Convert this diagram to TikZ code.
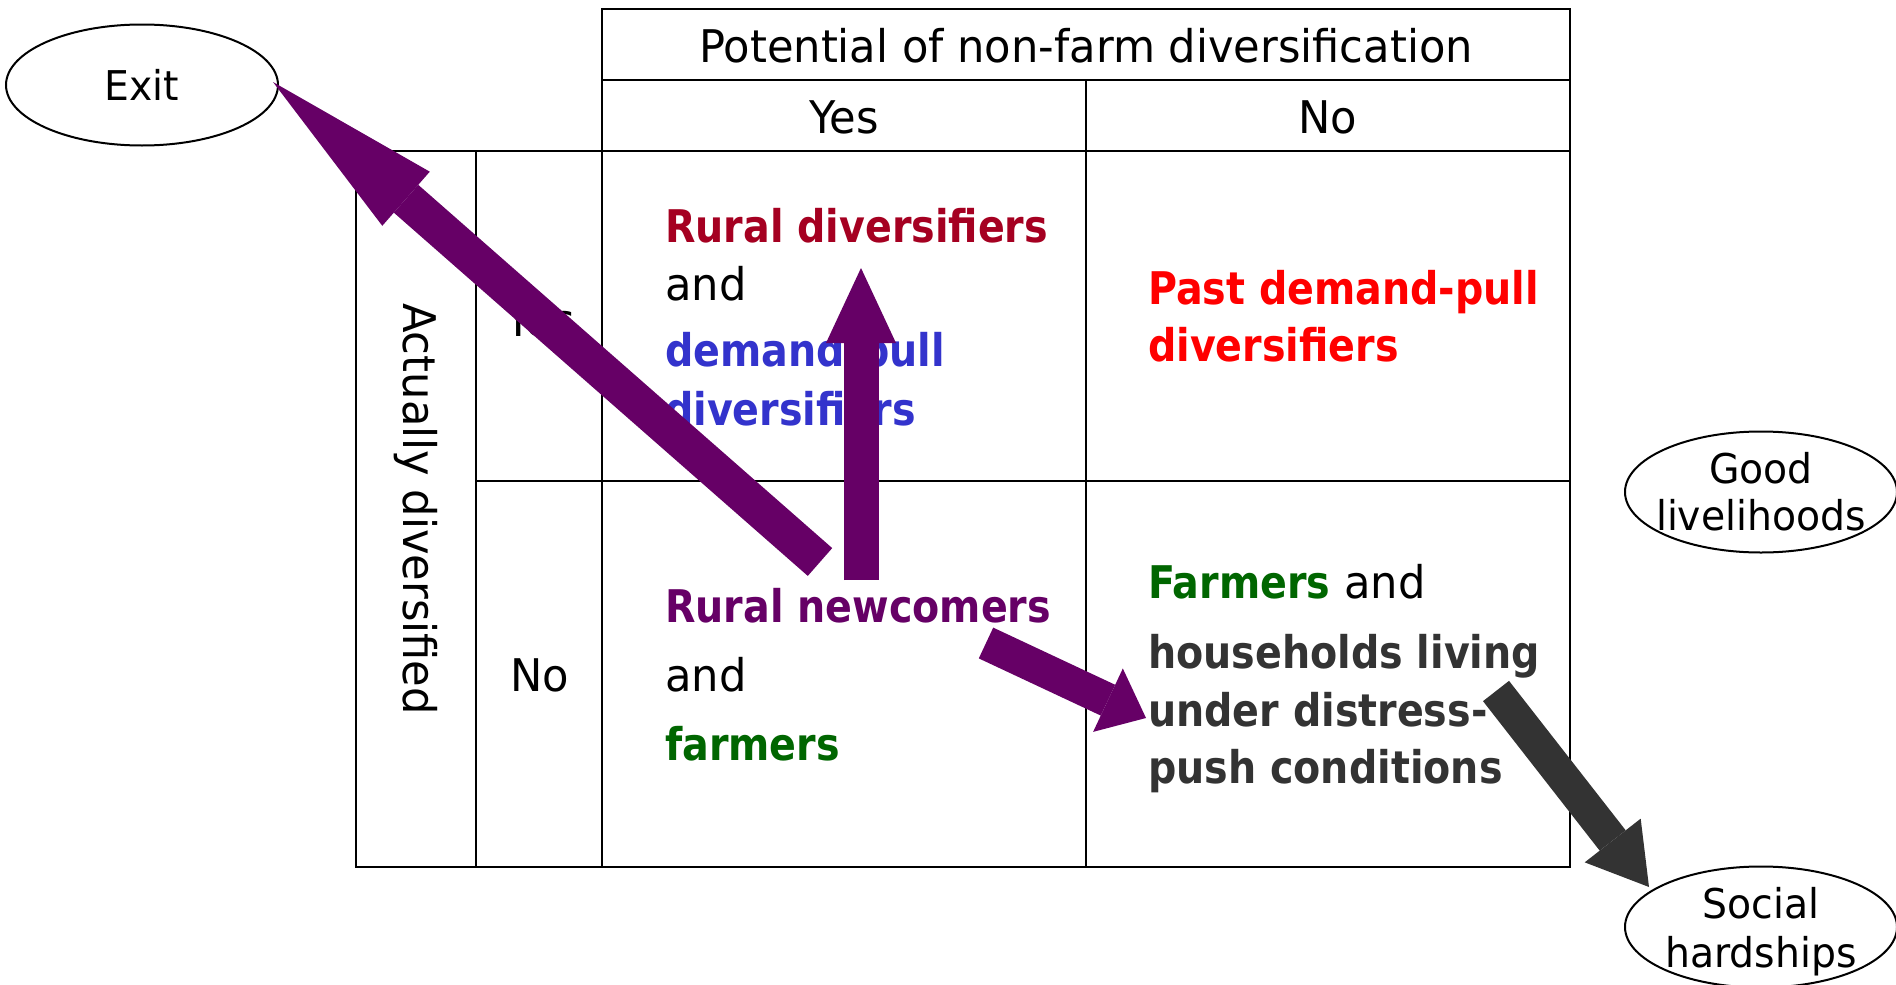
\documentclass[tikz,border=0pt]{standalone}
\usepackage{fontspec}
\newfontfamily\dvreg{DejaVu Sans}[FakeStretch=0.96]
\newfontfamily\dvbold{DejaVu Sans}[FakeStretch=0.88]
\newcommand\btx{\dvbold\bfseries}
\usetikzlibrary{arrows.meta,shapes.geometric}
\definecolor{cDarkRed}{HTML}{A50021}
\definecolor{cBlue}{HTML}{3333CC}
\definecolor{cRed}{HTML}{FF0000}
\definecolor{cPurple}{HTML}{660066}
\definecolor{cGreen}{HTML}{006600}
\definecolor{cGray}{HTML}{333333}
\begin{document}
\begin{tikzpicture}[x=1pt,y=-1pt,
  grid/.style={line width=2.5pt, line cap=rect},
  txt/.style={anchor=base west, inner sep=0pt, font=\fontsize{45}{54}\dvreg},
  ctr/.style={anchor=base, inner sep=0pt, font=\fontsize{45}{54}\dvreg},
  oval/.style={draw, ellipse, line width=2pt, minimum width=272pt, minimum height=121pt, inner sep=0pt},
  otext/.style={anchor=base, inner sep=0pt, font=\fontsize{41}{47}\dvreg},
  blockarrow/.style n args={4}{line width=#1, draw=#2, line cap=butt,
    -{Triangle[length=#3, width=#4, line width=0pt]}}
]
\fill[white] (0,0) rectangle (1896,985);
\useasboundingbox (0,0) rectangle (1896,985);

% table
\draw[grid] (602,9) -- (1570,9);
\draw[grid] (602,80) -- (1570,80);
\draw[grid] (356,151) -- (1570,151);
\draw[grid] (476,481) -- (1570,481);
\draw[grid] (356,867) -- (1570,867);
\draw[grid] (602,9) -- (602,867);
\draw[grid] (1570,9) -- (1570,867);
\draw[grid] (1086,80) -- (1086,867);
\draw[grid] (356,151) -- (356,867);
\draw[grid] (476,151) -- (476,867);

% headers
\node[ctr] (pot) at (1086,62) {Potential of non-farm diversification};
\node[ctr] (hyes) at (844,133) {Yes};
\node[ctr] (hno) at (1328,133) {No};
\node[ctr] (ryes) at (540,336) {Yes};
\node[ctr] (rno) at (540,691) {No};
\node[inner sep=0pt, rotate=-90, font=\fontsize{45}{54}\dvreg] (act) at (416,509) {Actually diversified};

% cell yes/yes
\node[txt, text=cDarkRed] (yy1) at (665,242) {\btx Rural diversifiers};
\node[txt] (yy2) at (665,300) {and};
\node[txt, text=cBlue] (yy3) at (665,366) {\btx demand-pull};
\node[txt, text=cBlue] (yy4) at (665,425) {\btx diversifiers};
% cell yes/no
\node[txt, text=cRed] (yn1) at (1148,304) {\btx Past demand-pull};
\node[txt, text=cRed] (yn2) at (1148,361) {\btx diversifiers};
% cell no/yes
\node[txt, text=cPurple] (ny1) at (665,622) {\btx Rural newcomers};
\node[txt] (ny2) at (665,691) {and};
\node[txt, text=cGreen] (ny3) at (665,760) {\btx farmers};
% cell no/no
\node[txt] (nn1) at (1148,598) {\textcolor{cGreen}{\btx Farmers} and};
\node[txt, text=cGray] (nn2) at (1148,668) {\btx households living};
\node[txt, text=cGray] (nn3) at (1148,726) {\btx under distress-};
\node[txt, text=cGray] (nn4) at (1148,783) {\btx push conditions};

% ellipses
\node[oval] (exit) at (142,85) {};
\node[otext] (exitt) at (142,100) {Exit};
\node[oval] (good) at (1761,492) {};
\node[otext] (good1) at (1761,483) {Good};
\node[otext] (good2) at (1761,530) {livelihoods};
\node[oval] (social) at (1761,927) {};
\node[otext] (soc1) at (1761,918) {Social};
\node[otext] (soc2) at (1761,967) {hardships};

% arrows
\coordinate (a1s) at (820,562); \coordinate (a1e) at (273,82);
\coordinate (a2s) at (861,580); \coordinate (a2e) at (861,268);
\coordinate (a3s) at (986,643); \coordinate (a3e) at (1146,718);
\coordinate (a4s) at (1496,691); \coordinate (a4e) at (1649,887);
\draw[blockarrow={37pt}{cPurple}{177pt}{72pt}] (a1s) -- (a1e);
\draw[blockarrow={35pt}{cPurple}{75pt}{70pt}] (a2s) -- (a2e);
\draw[blockarrow={34pt}{cPurple}{42pt}{70pt}] (a3s) -- (a3e);
\draw[blockarrow={33pt}{cGray}{59pt}{71pt}] (a4s) -- (a4e);
\end{tikzpicture}
\end{document}
